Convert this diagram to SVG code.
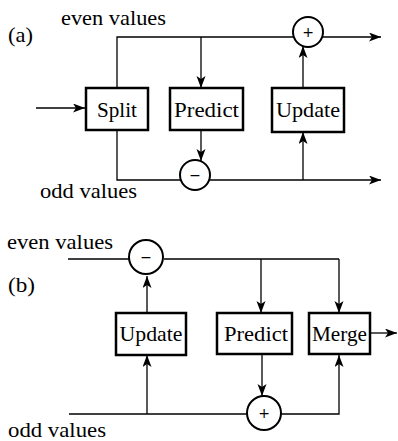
<svg xmlns="http://www.w3.org/2000/svg" width="398" height="441" viewBox="0 0 398 441">
<style>
.box{fill:#fff;stroke:#000;stroke-width:2.5}
.op{fill:#fff;stroke:#000;stroke-width:2}
.ln{fill:none;stroke:#000;stroke-width:1.3}
.ar{fill:none;stroke:#000;stroke-width:1.3;marker-end:url(#ah)}
text{font-family:"Liberation Serif","DejaVu Serif",serif;font-size:22px;fill:#000}
.c{text-anchor:middle}
.sym{font-family:"DejaVu Sans",sans-serif;font-size:14px;text-anchor:middle}
</style>
<defs>
<marker id="ah" markerUnits="userSpaceOnUse" markerWidth="13" markerHeight="10" refX="12" refY="4.5" orient="auto">
<path d="M0,0 L12,4.5 L0,9 L3,4.5 z" fill="#000"/>
</marker>
</defs>
<g id="labels">
<text x="61" y="25" textLength="105" lengthAdjust="spacingAndGlyphs">even values</text>
<text x="8" y="42" textLength="25" lengthAdjust="spacingAndGlyphs">(a)</text>
<text x="40" y="198" textLength="97" lengthAdjust="spacingAndGlyphs">odd values</text>
<text x="7" y="249" textLength="106" lengthAdjust="spacingAndGlyphs">even values</text>
<text x="8" y="292" textLength="27" lengthAdjust="spacingAndGlyphs">(b)</text>
<text x="8" y="437" textLength="98" lengthAdjust="spacingAndGlyphs">odd values</text>
</g>
<g id="connectors">
<line class="ar" x1="36" y1="108" x2="85" y2="108"/>
<path class="ln" d="M117,88 V37 H293"/>
<line class="ar" x1="323" y1="37" x2="381" y2="37"/>
<line class="ar" x1="201" y1="37" x2="201" y2="88"/>
<line class="ar" x1="201" y1="130" x2="201" y2="161"/>
<path class="ln" d="M117,130 V180 H180"/>
<line class="ar" x1="210" y1="180" x2="381" y2="180"/>
<line class="ar" x1="303" y1="180" x2="303" y2="132"/>
<line class="ar" x1="303" y1="88" x2="303" y2="46"/>
<line class="ln" x1="68" y1="259" x2="129" y2="259"/>
<path class="ln" d="M164,259 H339"/>
<line class="ar" x1="261" y1="259" x2="261" y2="313"/>
<line class="ar" x1="339" y1="259" x2="339" y2="313"/>
<line class="ar" x1="147" y1="313" x2="147" y2="276"/>
<line class="ln" x1="69" y1="414" x2="247" y2="414"/>
<line class="ar" x1="147" y1="414" x2="147" y2="355"/>
<line class="ar" x1="262" y1="354" x2="262" y2="396"/>
<path class="ar" d="M281,414 H339 V355"/>
<line class="ar" x1="370" y1="333" x2="397" y2="333"/>
</g>
<g id="split"><rect class="box" x="86" y="88" width="62" height="42"/><text class="c" x="117" y="117" textLength="40" lengthAdjust="spacingAndGlyphs">Split</text></g>
<g id="predict-a"><rect class="box" x="170" y="88" width="73" height="42"/><text class="c" x="206.5" y="117" textLength="65" lengthAdjust="spacingAndGlyphs">Predict</text></g>
<g id="update-a"><rect class="box" x="272" y="88" width="72" height="44"/><text class="c" x="308" y="117" textLength="64" lengthAdjust="spacingAndGlyphs">Update</text></g>
<g id="plus-a"><circle class="op" cx="308" cy="32" r="15"/><text class="sym" x="308" y="37">+</text></g>
<g id="minus-a"><circle class="op" cx="195" cy="175" r="15"/><text class="sym" x="195" y="180">−</text></g>
<g id="minus-b"><circle class="op" cx="146" cy="257" r="17"/><text class="sym" x="146" y="262">−</text></g>
<g id="update-b"><rect class="box" x="116" y="313" width="70" height="42"/><text class="c" x="151" y="341" textLength="63" lengthAdjust="spacingAndGlyphs">Update</text></g>
<g id="predict-b"><rect class="box" x="217" y="313" width="75" height="41"/><text class="c" x="256" y="341" textLength="64" lengthAdjust="spacingAndGlyphs">Predict</text></g>
<g id="merge"><rect class="box" x="309" y="313" width="61" height="41"/><text class="c" x="339.5" y="341" textLength="55" lengthAdjust="spacingAndGlyphs">Merge</text></g>
<g id="plus-b"><circle class="op" cx="264" cy="413" r="17"/><text class="sym" x="264" y="418">+</text></g>
</svg>
